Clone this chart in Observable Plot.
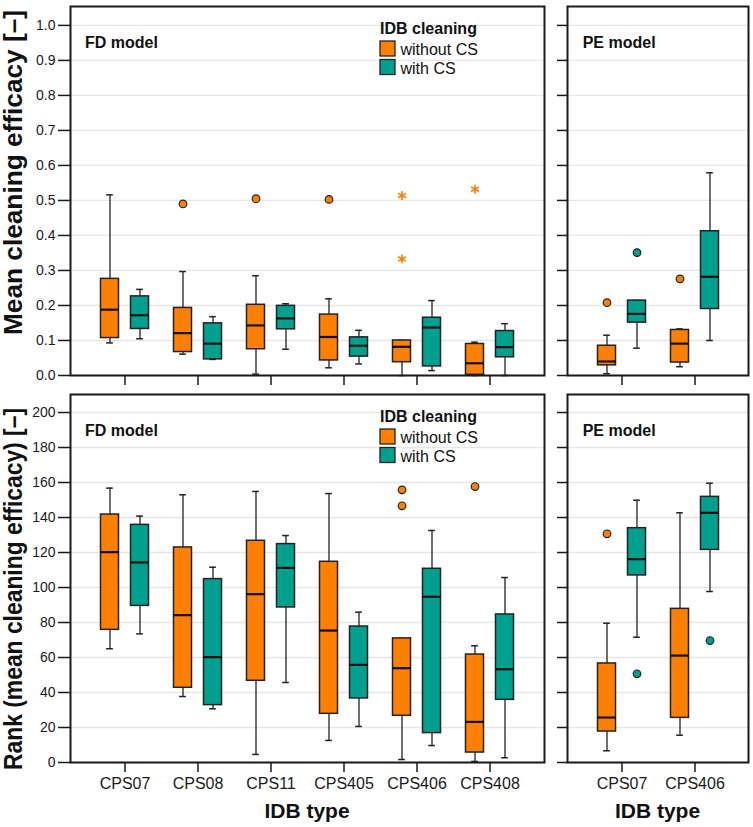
<!DOCTYPE html>
<html><head><meta charset="utf-8">
<script src="https://cdn.jsdelivr.net/npm/d3@7"></script>
<script src="https://cdn.jsdelivr.net/npm/@observablehq/plot@0.6"></script>
<style>
body{margin:0;background:#fff;font-family:Arial,"Liberation Sans",sans-serif;}
#wrap{position:relative;width:753px;height:827px;overflow:hidden;}
#wrap svg{position:absolute;}
</style></head><body><div id="wrap"></div>
<script>
// ---------- data ----------
const groupsFD = ["CPS07", "CPS08", "CPS11", "CPS405", "CPS406", "CPS408"];
const groupsPE = ["CPS07", "CPS406"];
const seriesNames = ["without CS", "with CS"];
const seriesColors = ["#ff7f00", "#00a08e"];

const effTicks = [0.0, 0.1, 0.2, 0.3, 0.4, 0.5, 0.6, 0.7, 0.8, 0.9, 1.0];
const rankTicks = [0, 20, 40, 60, 80, 100, 120, 140, 160, 180, 200];
const effDomain = [0, 1.054];
const rankDomain = [0, 210.3];

// box statistics per group: [lower whisker, Q1, median, Q3, upper whisker]
const effFDWithout = [
  [0.093, 0.107, 0.188, 0.276, 0.516],
  [0.061, 0.067, 0.121, 0.193, 0.297],
  [0.004, 0.075, 0.143, 0.202, 0.285],
  [0.022, 0.043, 0.110, 0.174, 0.219],
  [0.000, 0.038, 0.082, 0.100, 0.100],
  [0.000, 0.002, 0.035, 0.090, 0.095]
];
const effFDWith = [
  [0.105, 0.133, 0.172, 0.226, 0.246],
  [0.046, 0.046, 0.091, 0.149, 0.168],
  [0.075, 0.132, 0.163, 0.199, 0.205],
  [0.033, 0.054, 0.085, 0.109, 0.129],
  [0.014, 0.026, 0.137, 0.165, 0.214],
  [0.000, 0.052, 0.081, 0.127, 0.148]
];
const effFDWithoutOutliers = [["CPS08", 0.490], ["CPS11", 0.505], ["CPS405", 0.503]];
const effFDWithoutExtremes = [["CPS406", 0.514], ["CPS406", 0.333], ["CPS408", 0.532]];

const effPEWithout = [
  [0.005, 0.029, 0.040, 0.085, 0.115],
  [0.025, 0.037, 0.091, 0.130, 0.133]
];
const effPEWith = [
  [0.078, 0.151, 0.176, 0.214, 0.214],
  [0.100, 0.190, 0.282, 0.412, 0.579]
];
const effPEWithoutOutliers = [["CPS07", 0.208], ["CPS406", 0.276]];
const effPEWithOutliers = [["CPS07", 0.351]];

const rankFDWithout = [
  [65.0, 75.8, 120.2, 141.7, 156.8],
  [37.7, 42.7, 84.2, 122.9, 153.0],
  [4.6, 46.7, 96.2, 126.7, 154.9],
  [12.6, 27.8, 75.4, 114.7, 153.7],
  [1.7, 26.7, 53.9, 70.9, 70.9],
  [0.6, 5.7, 23.2, 61.7, 66.7]
];
const rankFDWith = [
  [73.5, 89.5, 114.3, 135.8, 140.8],
  [30.7, 32.8, 60.2, 104.8, 111.6],
  [45.7, 88.6, 111.2, 124.8, 129.7],
  [20.6, 36.6, 55.8, 77.7, 85.9],
  [9.7, 16.8, 94.7, 110.7, 132.6],
  [2.7, 35.8, 53.3, 84.6, 105.7]
];
const rankFDWithoutOutliers = [["CPS406", 155.8], ["CPS406", 146.7], ["CPS408", 157.7]];

const rankPEWithout = [
  [6.7, 17.7, 25.7, 56.6, 79.6],
  [15.6, 25.5, 61.1, 87.8, 142.7]
];
const rankPEWith = [
  [71.6, 106.9, 116.2, 133.9, 149.9],
  [97.7, 121.5, 142.7, 151.8, 159.6]
];
const rankPEWithoutOutliers = [["CPS07", 130.7]];
const rankPEWithOutliers = [["CPS07", 50.7], ["CPS406", 69.7]];

// ---------- drawing ----------
const FONT = "Arial, 'Liberation Sans', sans-serif";
const wrap = document.getElementById("wrap");

function panel(cfg) {
  const {groups, series, yDomain, yTicks, yFormat, left, top, width, height, margin,
         yLabels, xLabels, tickSizeY} = cfg;
  const n = groups.length;
  const step = 73.5;
  const innerW = width - margin.left - margin.right;
  const po = (innerW / step - n) / 2;
  const boxHalf = 9.25, capHalf = 3.6, off = 15;
  const boxInset = step / 2 - boxHalf, capInset = step / 2 - capHalf;
  const marks = [Plot.gridY(yTicks, {stroke: "#e6e6e6", strokeOpacity: 1, strokeWidth: 1.3})];
  series.forEach((s, k) => {
    const dx = k === 0 ? -off : off;
    const color = seriesColors[k];
    const rows = groups.map((g, i) => ({group: g, lo: s.stats[i][0], q1: s.stats[i][1],
      med: s.stats[i][2], q3: s.stats[i][3], hi: s.stats[i][4]}));
    marks.push(
      Plot.ruleX(rows, {x: "group", y1: "lo", y2: "hi", dx, stroke: "#222", strokeWidth: 1.3}),
      Plot.tickY(rows, {x: "group", y: "lo", dx, insetLeft: capInset, insetRight: capInset, stroke: "#222", strokeWidth: 1.5}),
      Plot.tickY(rows, {x: "group", y: "hi", dx, insetLeft: capInset, insetRight: capInset, stroke: "#222", strokeWidth: 1.5}),
      Plot.barY(rows, {x: "group", y1: "q1", y2: "q3", dx, insetLeft: boxInset, insetRight: boxInset,
        fill: color, stroke: "#222", strokeWidth: 1.5}),
      Plot.tickY(rows, {x: "group", y: "med", dx, insetLeft: boxInset, insetRight: boxInset, stroke: "#111", strokeWidth: 2.2})
    );
    if (s.outliers) marks.push(Plot.dot(s.outliers, {x: d => d[0], y: d => d[1], dx, r: 3.8,
      fill: color, stroke: "#222", strokeWidth: 1.2}));
    if (s.extremes) marks.push(Plot.dot(s.extremes, {x: d => d[0], y: d => d[1], dx, r: 4.2,
      symbol: "asterisk", stroke: color, strokeWidth: 1.6}));
  });
  marks.push(Plot.frame({stroke: "#1a1a1a", strokeWidth: 2}));
  marks.push(Plot.axisY(yTicks, {tickSize: tickSizeY, tickPadding: 3, fontSize: 14,
    tickFormat: yLabels ? yFormat : () => "", label: null, strokeWidth: 1.5}));
  marks.push(Plot.axisX(groups, {tickSize: 10, tickPadding: 5, fontSize: 16,
    tickFormat: xLabels ? d => d : () => "", label: null, strokeWidth: 1.5}));
  const svg = Plot.plot({
    width, height,
    marginTop: margin.top, marginBottom: margin.bottom, marginLeft: margin.left, marginRight: margin.right,
    x: {type: "band", domain: groups, paddingInner: 0, paddingOuter: po},
    y: {domain: yDomain},
    style: {fontFamily: FONT, color: "#1a1a1a", background: "transparent", overflow: "visible"},
    marks
  });
  svg.style.left = left + "px";
  svg.style.top = top + "px";
  wrap.appendChild(svg);
  return d3.select(svg);
}

function addText(sel, txt, x, y, opts = {}) {
  const t = sel.append("text").attr("x", x).attr("y", y).text(txt)
    .attr("font-family", FONT).attr("font-size", opts.size || 16)
    .attr("fill", "#111")
    .attr("font-weight", opts.bold ? "bold" : "normal")
    .attr("text-anchor", opts.anchor || "start");
  if (opts.transform) t.attr("transform", opts.transform).attr("x", 0).attr("y", 0);
  if (opts.length) t.attr("textLength", opts.length).attr("lengthAdjust", "spacingAndGlyphs");
  return t;
}

function legend(sel) {
  addText(sel, "IDB cleaning", 380, 33.5, {bold: true, size: 16});
  seriesNames.forEach((name, k) => {
    sel.append("rect").attr("x", 380).attr("y", 41 + k * 18.5).attr("width", 15).attr("height", 15)
      .attr("fill", seriesColors[k]).attr("stroke", "#222").attr("stroke-width", 1.3);
    addText(sel, name, 400.5, 55 + k * 18.5, {size: 16});
  });
}

const fmt1 = d3.format(".1f");
const fmt0 = d3.format("d");

// top-left: FD efficacy
const tl = panel({groups: groupsFD, yDomain: effDomain, yTicks: effTicks, yFormat: fmt1,
  left: 0, top: 0, width: 550, height: 388, margin: {top: 6, bottom: 13, left: 70, right: 6},
  yLabels: true, xLabels: false, tickSizeY: 12,
  series: [{stats: effFDWithout, outliers: effFDWithoutOutliers, extremes: effFDWithoutExtremes},
           {stats: effFDWith}]});
addText(tl, "FD model", 85, 48.3, {bold: true, size: 16});
legend(tl);
addText(tl, "Mean cleaning efficacy [–]", 0, 0, {bold: true, size: 25, anchor: "middle",
  transform: "translate(22,172.5) rotate(-90)", length: 325});

// top-right: PE efficacy
const tr = panel({groups: groupsPE, yDomain: effDomain, yTicks: effTicks, yFormat: fmt1,
  left: 550, top: 0, width: 203, height: 388, margin: {top: 6, bottom: 13, left: 17, right: 5},
  yLabels: false, xLabels: false, tickSizeY: 10,
  series: [{stats: effPEWithout, outliers: effPEWithoutOutliers},
           {stats: effPEWith, outliers: effPEWithOutliers}]});
addText(tr, "PE model", 32.7, 48.3, {bold: true, size: 16});

// bottom-left: FD rank
const bl = panel({groups: groupsFD, yDomain: rankDomain, yTicks: rankTicks, yFormat: fmt0,
  left: 0, top: 388, width: 550, height: 439, margin: {top: 6, bottom: 65, left: 70, right: 6},
  yLabels: true, xLabels: true, tickSizeY: 12,
  series: [{stats: rankFDWithout, outliers: rankFDWithoutOutliers},
           {stats: rankFDWith}]});
addText(bl, "FD model", 85, 47.7, {bold: true, size: 16});
legend(bl);
addText(bl, "Rank (mean cleaning efficacy) [–]", 0, 0, {bold: true, size: 25, anchor: "middle",
  transform: "translate(22,201) rotate(-90)", length: 362});
addText(bl, "IDB type", 307, 430.3, {bold: true, size: 21, anchor: "middle"});

// bottom-right: PE rank
const br = panel({groups: groupsPE, yDomain: rankDomain, yTicks: rankTicks, yFormat: fmt0,
  left: 550, top: 388, width: 203, height: 439, margin: {top: 6, bottom: 65, left: 17, right: 5},
  yLabels: false, xLabels: true, tickSizeY: 10,
  series: [{stats: rankPEWithout, outliers: rankPEWithoutOutliers},
           {stats: rankPEWith, outliers: rankPEWithOutliers}]});
addText(br, "PE model", 32.7, 47.7, {bold: true, size: 16});
addText(br, "IDB type", 107.5, 430.3, {bold: true, size: 21, anchor: "middle"});
</script>
</body></html>
